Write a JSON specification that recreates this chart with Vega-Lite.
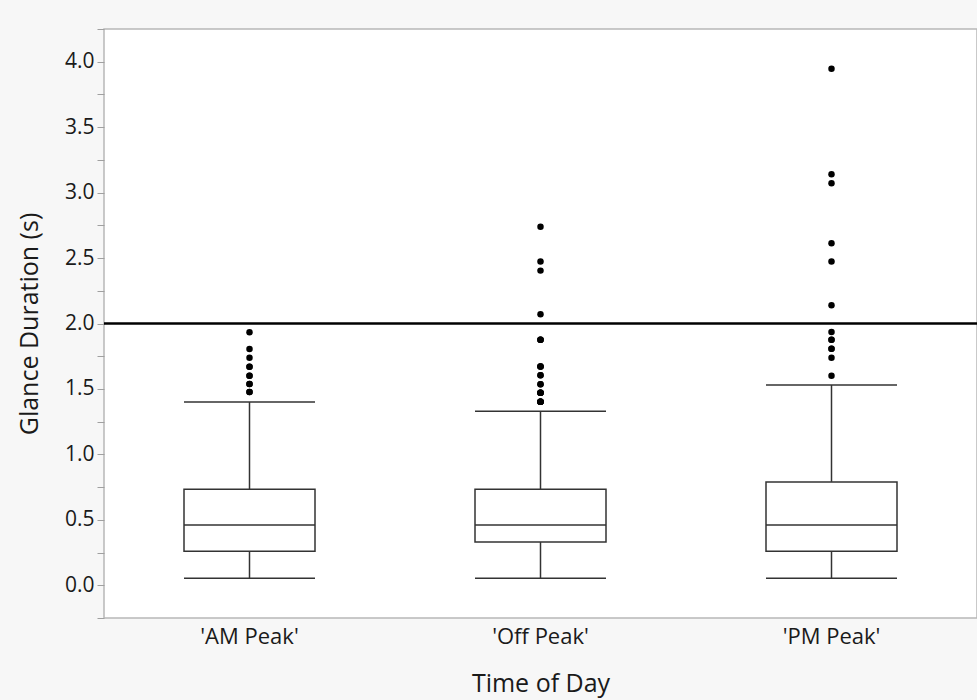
{
  "$schema": "https://vega.github.io/schema/vega-lite/v6.json",
  "width": 873,
  "height": 589,
  "autosize": {"type": "none"},
  "padding": {"left": 104, "top": 29, "right": 0, "bottom": 82},
  "background": "#f7f7f7",
  "config": {
    "font": "Open Sans",
    "view": {"fill": "white", "stroke": "#b8b8b8", "strokeWidth": 1.5}
  },
  "resolve": {"axis": {"y": "independent"}},
  "datasets": {
    "boxes": [
      {"time": "'AM Peak'", "lower": 0.054, "q1": 0.26, "median": 0.46, "q3": 0.734, "upper": 1.40},
      {"time": "'Off Peak'", "lower": 0.054, "q1": 0.33, "median": 0.46, "q3": 0.734, "upper": 1.33},
      {"time": "'PM Peak'", "lower": 0.054, "q1": 0.26, "median": 0.46, "q3": 0.79, "upper": 1.53}
    ],
    "outliers": [
      {"time": "'AM Peak'", "duration": 1.933},
      {"time": "'AM Peak'", "duration": 1.805},
      {"time": "'AM Peak'", "duration": 1.739},
      {"time": "'AM Peak'", "duration": 1.67},
      {"time": "'AM Peak'", "duration": 1.67},
      {"time": "'AM Peak'", "duration": 1.60},
      {"time": "'AM Peak'", "duration": 1.60},
      {"time": "'AM Peak'", "duration": 1.537},
      {"time": "'AM Peak'", "duration": 1.537},
      {"time": "'AM Peak'", "duration": 1.476},
      {"time": "'AM Peak'", "duration": 1.476},
      {"time": "'Off Peak'", "duration": 2.74},
      {"time": "'Off Peak'", "duration": 2.473},
      {"time": "'Off Peak'", "duration": 2.404},
      {"time": "'Off Peak'", "duration": 2.07},
      {"time": "'Off Peak'", "duration": 1.876},
      {"time": "'Off Peak'", "duration": 1.876},
      {"time": "'Off Peak'", "duration": 1.876},
      {"time": "'Off Peak'", "duration": 1.672},
      {"time": "'Off Peak'", "duration": 1.672},
      {"time": "'Off Peak'", "duration": 1.672},
      {"time": "'Off Peak'", "duration": 1.604},
      {"time": "'Off Peak'", "duration": 1.604},
      {"time": "'Off Peak'", "duration": 1.535},
      {"time": "'Off Peak'", "duration": 1.535},
      {"time": "'Off Peak'", "duration": 1.471},
      {"time": "'Off Peak'", "duration": 1.471},
      {"time": "'Off Peak'", "duration": 1.471},
      {"time": "'Off Peak'", "duration": 1.471},
      {"time": "'Off Peak'", "duration": 1.402},
      {"time": "'Off Peak'", "duration": 1.402},
      {"time": "'Off Peak'", "duration": 1.402},
      {"time": "'Off Peak'", "duration": 1.402},
      {"time": "'Off Peak'", "duration": 1.402},
      {"time": "'PM Peak'", "duration": 3.946},
      {"time": "'PM Peak'", "duration": 3.141},
      {"time": "'PM Peak'", "duration": 3.072},
      {"time": "'PM Peak'", "duration": 2.613},
      {"time": "'PM Peak'", "duration": 2.473},
      {"time": "'PM Peak'", "duration": 2.139},
      {"time": "'PM Peak'", "duration": 1.935},
      {"time": "'PM Peak'", "duration": 1.876},
      {"time": "'PM Peak'", "duration": 1.876},
      {"time": "'PM Peak'", "duration": 1.807},
      {"time": "'PM Peak'", "duration": 1.807},
      {"time": "'PM Peak'", "duration": 1.739},
      {"time": "'PM Peak'", "duration": 1.60}
    ],
    "reference": [{"threshold": 2}]
  },
  "layer": [
    {
      "data": {"name": "boxes"},
      "mark": {"type": "rule", "color": "#333333", "strokeWidth": 1.5},
      "encoding": {
        "x": {
          "field": "time",
          "type": "nominal",
          "sort": null,
          "scale": {"domain": ["'AM Peak'", "'Off Peak'", "'PM Peak'"], "paddingInner": 0, "paddingOuter": 0},
          "axis": {
            "title": "Time of Day",
            "labelAngle": 0,
            "labelFontSize": 22,
            "labelColor": "#1a1a1a",
            "labelPadding": 8,
            "ticks": false,
            "domain": false,
            "titleFontSize": 25,
            "titleFontWeight": "normal",
            "titleColor": "#1a1a1a",
            "titlePadding": 24
          }
        },
        "y": {
          "field": "lower",
          "type": "quantitative",
          "scale": {"domain": [-0.25, 4.25], "nice": false, "zero": false},
          "axis": {
            "title": "Glance Duration (s)",
            "values": [0, 0.5, 1, 1.5, 2, 2.5, 3, 3.5, 4],
            "format": ".1f",
            "labelOverlap": false,
            "labelFlush": false,
            "grid": false,
            "domain": false,
            "tickColor": "#a0a0a0",
            "tickSize": 7,
            "labelFontSize": 21,
            "labelColor": "#1a1a1a",
            "labelPadding": 3,
            "titleFontSize": 25,
            "titleFontWeight": "normal",
            "titleColor": "#1a1a1a",
            "titlePadding": 22
          }
        },
        "y2": {"field": "q1"}
      }
    },
    {
      "data": {"name": "boxes"},
      "mark": {"type": "rule", "color": "#333333", "strokeWidth": 1.5},
      "encoding": {
        "x": {"field": "time", "type": "nominal", "sort": null},
        "y": {"field": "q3", "type": "quantitative", "axis": null},
        "y2": {"field": "upper"}
      }
    },
    {
      "data": {"name": "boxes"},
      "mark": {"type": "bar", "fill": "white", "stroke": "#333333", "strokeWidth": 1.5, "width": 131},
      "encoding": {
        "x": {"field": "time", "type": "nominal", "sort": null},
        "y": {"field": "q1", "type": "quantitative", "axis": null},
        "y2": {"field": "q3"}
      }
    },
    {
      "data": {"name": "boxes"},
      "mark": {"type": "tick", "color": "#333333", "thickness": 1.5, "size": 131, "opacity": 1},
      "encoding": {
        "x": {"field": "time", "type": "nominal", "sort": null},
        "y": {"field": "median", "type": "quantitative", "axis": null}
      }
    },
    {
      "data": {"name": "boxes"},
      "mark": {"type": "tick", "color": "#333333", "thickness": 1.5, "size": 131, "opacity": 1},
      "encoding": {
        "x": {"field": "time", "type": "nominal", "sort": null},
        "y": {"field": "lower", "type": "quantitative", "axis": null}
      }
    },
    {
      "data": {"name": "boxes"},
      "mark": {"type": "tick", "color": "#333333", "thickness": 1.5, "size": 131, "opacity": 1},
      "encoding": {
        "x": {"field": "time", "type": "nominal", "sort": null},
        "y": {"field": "upper", "type": "quantitative", "axis": null}
      }
    },
    {
      "data": {"name": "outliers"},
      "mark": {"type": "point", "filled": true, "color": "black", "opacity": 1, "size": 42},
      "encoding": {
        "x": {"field": "time", "type": "nominal", "sort": null},
        "y": {"field": "duration", "type": "quantitative", "axis": null}
      }
    },
    {
      "data": {"name": "reference"},
      "mark": {"type": "rule", "color": "black", "strokeWidth": 2.5},
      "encoding": {
        "y": {
          "field": "threshold",
          "type": "quantitative",
          "axis": {
            "orient": "left",
            "values": [-0.25, 0.25, 0.75, 1.25, 1.75, 2.25, 2.75, 3.25, 3.75, 4.25],
            "labels": false,
            "title": null,
            "grid": false,
            "domain": false,
            "tickColor": "#a0a0a0",
            "tickSize": 7
          }
        }
      }
    }
  ]
}
